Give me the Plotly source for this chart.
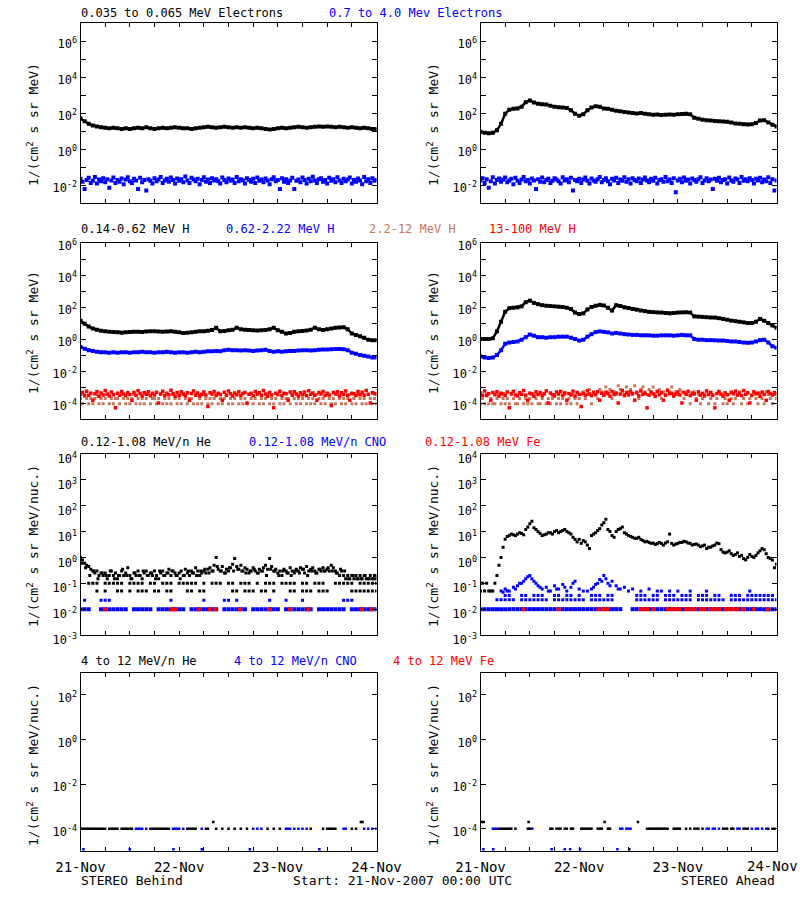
import plotly.graph_objects as go

N = None

# ---------------- DATA ----------------
# Row 1: electrons (hourly, hours since 21-Nov-2007 00:00)
E_LOW_BEHIND = [50,35,25,20,18,16,15,14,15,14, 13,14,13,14,15,14,16,14,13,14,
                15,14,15,16,15,14,14,13,14,15, 16,17,16,15,16,17,16,15,16,15,
                16,15,14,15,14,13,12,13,14,15, 14,15,16,17,16,15,16,17,18,17,
                18,17,16,17,16,15,16,15,14,15, 14,13,13]
E_LOW_AHEAD = [9,8,7.5,8,11,25,90,150,170,180, 220,400,500,380,330,310,300,250,220,210,
               200,190,140,90,70,85,140,200,240,220, 180,170,150,135,125,115,105,100,95,100,
               90,85,80,82,78,80,82,80,85,88, 90,85,55,48,42,40,38,36,35,34,
               33,30,26,25,24,23,24,28,38,40, 30,22,18]
# half-hourly
E_HIGH_BEHIND = [0.022,0.015,0.006,0.019,0.025,0.013,0.017,0.028,0.012,0.02,0.016,0.024,
                 0.014,0.021,0.007,0.018,0.026,0.013,0.019,0.015,0.023,0.011,0.02,0.027,
                 0.016,0.013,0.022,0.018,0.006,0.025,0.014,0.019,0.005,0.021,0.017,0.012,
                 0.024,0.016,0.02,0.028,0.013,0.018,0.022,0.015,0.026,0.019,0.012,0.023,
                 0.017,0.021,0.014,0.03,0.018,0.013,0.025,0.02,0.016,0.022,0.011,0.019,
                 0.027,0.015,0.02,0.013,0.024,0.018,0.021,0.016,0.012,0.026,0.019,0.014,
                 0.023,0.017,0.02,0.013,0.028,0.016,0.021,0.018,0.012,0.024,0.019,0.015,
                 0.022,0.013,0.026,0.017,0.02,0.014,0.023,0.018,0.011,0.021,0.027,0.016,
                 0.019,0.006,0.024,0.015,0.021,0.013,0.018,0.025,0.006,0.017,0.02,0.014,
                 0.026,0.019,0.012,0.022,0.016,0.029,0.018,0.013,0.021,0.024,0.015,0.019,
                 0.012,0.025,0.017,0.021,0.014,0.027,0.018,0.013,0.022,0.016,0.02,0.026,
                 0.012,0.019,0.015,0.023,0.018,0.011,0.028,0.016,0.021,0.013,0.024,0.017,
                 0.019]
E_HIGH_AHEAD = [0.018,0.024,0.013,0.021,0.007,0.016,0.027,0.012,0.019,0.023,0.015,0.02,
                0.026,0.014,0.018,0.022,0.011,0.025,0.017,0.013,0.02,0.028,0.016,0.019,
                0.012,0.023,0.018,0.006,0.021,0.015,0.026,0.014,0.019,0.022,0.013,0.017,
                0.024,0.02,0.016,0.012,0.027,0.018,0.021,0.014,0.025,0.005,0.019,0.016,
                0.022,0.013,0.02,0.026,0.017,0.012,0.023,0.018,0.015,0.021,0.028,0.014,
                0.019,0.024,0.016,0.011,0.022,0.018,0.025,0.013,0.02,0.017,0.027,0.015,
                0.021,0.012,0.024,0.019,0.016,0.023,0.013,0.02,0.026,0.018,0.014,0.022,
                0.017,0.025,0.012,0.019,0.021,0.015,0.028,0.016,0.02,0.013,0.024,0.004,
                0.018,0.022,0.014,0.026,0.017,0.02,0.012,0.023,0.019,0.015,0.021,0.027,
                0.013,0.018,0.024,0.016,0.02,0.006,0.022,0.017,0.025,0.014,0.019,0.021,
                0.012,0.026,0.018,0.015,0.023,0.02,0.013,0.028,0.017,0.021,0.016,0.024,
                0.019,0.012,0.022,0.018,0.025,0.014,0.02,0.016,0.027,0.013,0.021,0.005,
                0.018]

# Row 2: protons (hourly)
H1_BEHIND = [14,9,6,4.5,3.8,3.3,3,2.8,2.7,2.6, 2.5,2.6,2.7,2.8,2.8,2.7,2.9,3,3,2.9,
             2.8,2.9,3,2.8,2.6,2.4,2.5,2.6,2.8,3, 3.1,3.3,3.6,5,3,3.2,3.5,3.8,5,4,
             3.8,3.6,3.5,3.4,3.5,3.6,4,5,3.5,2.8, 2.2,2.4,2.8,3,3.2,3.4,3.8,5,4,3.6,
             4,4.5,5,5.2,5.5,4,2.2,1.8,1.5,1.2, 0.9,0.85,0.85]
H1_AHEAD = [1.0,1.0,1.0,1.1,3,12,50,85,90,95, 110,200,250,180,150,130,120,115,110,105,
            100,90,75,45,36,40,70,100,120,135, 125,90,60,130,115,95,85,75,68,60,
            55,50,48,46,45,42,40,42,45,46, 47,45,26,25,24,23,22,22,20,18,
            16,14,13,12,11,10,10,12,18,14, 10,7,5]
H2_BEHIND = [0.32,0.25,0.2,0.18,0.16,0.15,0.15,0.14,0.15,0.14, 0.15,0.15,0.14,0.15,0.15,0.16,0.15,0.15,0.14,0.15,
             0.15,0.16,0.15,0.14,0.15,0.15,0.14,0.15,0.16,0.15, 0.16,0.17,0.17,0.18,0.17,0.2,0.21,0.2,0.2,0.19,
             0.2,0.19,0.18,0.19,0.2,0.21,0.18,0.16,0.17,0.16, 0.17,0.18,0.18,0.19,0.2,0.2,0.19,0.2,0.21,0.22,
             0.22,0.23,0.24,0.24,0.23,0.2,0.14,0.12,0.1,0.09, 0.08,0.07,0.07]
H2_AHEAD = [0.08,0.07,0.065,0.07,0.1,0.2,0.5,0.6,0.65,0.7, 0.9,1.3,1.9,1.6,1.3,1.3,1.2,1.3,1.3,1.4,
            1.4,1.4,1.2,1.0,0.8,0.9,1.4,2.0,2.7,3.0, 2.8,2.6,2.2,2.4,2.2,2.0,1.9,1.8,1.8,1.7,
            1.7,1.7,1.6,1.6,1.7,1.7,1.7,1.6,1.7,1.8, 1.7,1.7,1.0,0.9,0.9,0.85,0.85,0.83,0.8,0.8,
            0.75,0.7,0.7,0.65,0.6,0.58,0.6,0.7,0.85,0.9, 0.6,0.35,0.28]
# half-hourly, values in 1e-4 units
H3_BEHIND_E4 = [1.9,0.9,3.4,1.9,0.9,1.9,0.9,1.9,3.4,0.9,1.9,0.9,
                1.9,3.4,0.9,1.9,0.9,1.9,1.9,0.9,3.4,1.9,0.9,1.9,
                0.9,1.9,3.4,0.9,1.9,0.9,1.9,0.9,1.9,3.4,0.9,1.9,
                1.9,0.9,1.9,3.4,0.9,1.9,0.9,1.9,0.9,3.4,1.9,0.9,
                1.9,0.9,3.4,1.9,0.9,1.9,1.9,0.9,3.4,0.9,1.9,0.9,
                3.4,1.9,0.9,1.9,0.9,1.9,3.4,0.9,1.9,0.9,1.9,3.4,
                0.9,1.9,0.9,1.9,3.4,0.9,1.9,0.9,1.9,0.9,3.4,1.9,
                0.9,1.9,3.4,0.9,1.9,0.9,1.9,3.4,0.9,1.9,0.9,1.9,
                3.4,0.9,1.9,0.9,1.9,1.9,0.9,3.4,1.9,0.9,1.9,0.9,
                1.9,3.4,0.9,1.9,0.9,1.9,0.9,3.4,1.9,0.9,1.9,0.9,
                3.4,1.9,0.9,1.9,0.9,3.4,1.9,0.9,1.9,0.9,1.9,3.4,
                0.9,1.9,0.9,3.4,1.9,0.9,1.9,0.9,3.4,1.9,0.9,1.9,
                0.9]
H3_AHEAD_E4 = [0.9,1.9,0.9,3.4,0.9,1.9,0.9,0.9,1.9,3.4,0.9,1.9,
               0.9,1.9,0.9,3.4,1.9,0.9,0.9,1.9,3.4,0.9,1.9,0.9,
               1.9,0.9,3.4,1.9,0.9,0.9,1.9,3.4,0.9,1.9,0.9,1.9,
               3.4,0.9,1.9,0.9,1.9,3.4,0.9,1.9,0.9,3.4,1.9,0.9,
               1.9,3.4,5.0,1.9,3.4,7.0,0.9,5.0,3.4,1.9,7.0,5.0,
               3.4,10,5.0,7.0,1.9,5.0,3.4,12,7.0,5.0,3.4,10,
               5.0,7.0,3.4,12,5.0,1.9,7.0,10,5.0,3.4,7.0,5.0,
               10,3.4,5.0,7.0,1.9,5.0,3.4,7.0,5.0,10,3.4,5.0,
               3.4,7.0,5.0,1.9,3.4,5.0,0.9,3.4,5.0,1.9,3.4,0.9,
               1.9,3.4,5.0,0.9,1.9,3.4,0.9,1.9,5.0,3.4,0.9,1.9,
               0.9,3.4,1.9,0.9,1.9,3.4,5.0,0.9,1.9,3.4,0.9,1.9,
               3.4,5.0,1.9,0.9,3.4,1.9,0.9,5.0,3.4,1.9,0.9,3.4,
               1.9]
H4_BEHIND_E4 = [3.5,4.5,2.8,5.5,3.0,4.0,1.5,3.8,5.0,2.6,4.2,3.2,
                6.0,3.6,2.7,4.8,3.3,0.5,4.1,3.0,5.2,3.7,2.9,4.4,
                3.4,1.5,4.6,3.1,5.8,3.9,2.7,4.3,3.5,5.1,2.8,4.0,
                3.2,4.7,1.0,3.6,5.4,2.9,4.1,3.3,6.2,3.8,2.6,4.5,
                3.0,5.0,3.7,2.8,4.3,1.5,3.9,5.6,3.1,4.2,2.7,3.5,
                4.9,3.2,0.6,4.4,3.6,5.3,2.9,4.0,3.4,1.5,4.7,3.1,
                5.7,3.8,2.7,4.2,3.3,5.0,2.9,3.9,4.6,1.0,3.5,4.1,
                2.8,5.2,3.6,4.3,3.0,6.0,3.7,2.6,4.5,3.2,0.5,4.0,
                3.4,5.5,2.9,4.1,3.8,1.5,4.8,3.1,5.1,3.6,2.7,4.4,
                3.3,4.9,2.8,5.9,3.5,4.2,3.0,1.5,4.6,3.7,5.3,2.9,
                4.0,3.2,0.7,4.5,3.6,5.0,2.7,4.3,3.4,5.6,3.1,1.5,
                4.1,3.8,2.9,5.2,3.3,4.7,3.0,6.1,3.5,1.0,4.4,3.9,
                3.6]
H4_AHEAD_E4 = [4.2,3.1,5.6,2.9,3.8,1.5,4.6,3.3,5.1,2.7,4.0,3.6,
               3.0,4.8,0.5,3.9,5.4,3.2,2.8,4.4,3.5,6.0,3.1,1.5,
               4.1,3.7,2.6,5.0,3.4,4.5,2.9,3.8,5.7,1.0,4.2,3.3,
               2.8,4.9,3.6,5.3,3.0,4.3,1.5,3.9,3.2,5.5,2.7,4.6,
               3.5,0.6,4.0,3.1,5.8,3.7,2.9,4.4,3.3,5.1,1.5,4.1,
               3.0,4.7,3.8,2.7,5.2,3.4,4.2,1.0,3.6,6.1,2.9,4.5,
               3.2,5.0,3.9,1.5,4.3,2.8,5.6,3.5,4.0,0.5,3.1,4.8,
               3.7,2.6,5.3,3.3,4.4,1.5,3.0,5.9,3.8,4.1,2.7,3.6,
               4.9,3.2,1.0,4.5,3.5,5.4,2.9,4.2,3.7,1.5,5.0,3.1,
               4.0,2.8,5.7,3.4,4.6,3.0,0.5,3.9,5.2,3.6,2.7,4.3,
               3.3,1.5,4.7,3.8,5.5,3.1,4.1,2.9,6.0,3.5,4.4,1.0,
               3.0,5.1,3.7,4.2,2.6,4.8,3.4,1.5,5.3,3.9,3.2,4.5,
               3.8]

# Row 3: 0.12-1.08 MeV/n
HE_BEHIND_CLOUD = [1.0,0.8,0.6,0.5,0.45,0.35,0.3,0.25,0.3,0.2,0.25,0.2,
                   0.25,0.15,0.2,0.3,0.2,0.25,0.15,0.2,0.3,0.2,0.25,0.4,
                   0.2,0.15,0.25,0.2,0.3,0.2,0.15,0.25,0.3,0.2,0.25,0.2,
                   0.3,0.2,0.15,0.25,0.3,0.2,0.25,0.35,0.2,0.3,0.25,0.2,
                   0.25,0.3,0.2,0.35,0.25,0.2,0.3,0.25,0.4,0.3,0.2,0.25,
                   0.3,0.25,0.35,0.4,0.3,0.5,1.0,0.35,0.3,0.45,0.25,0.35,
                   0.3,0.4,0.55,0.9,0.45,0.35,0.5,0.3,0.4,0.35,0.25,0.3,
                   0.4,0.3,0.25,0.35,0.3,0.4,0.5,0.35,0.9,0.45,0.3,0.35,
                   0.25,0.3,0.2,0.35,0.3,0.25,0.4,0.3,0.25,0.35,0.3,0.4,
                   0.35,0.25,0.45,0.3,0.35,0.4,0.3,0.25,0.35,0.3,0.4,0.3,
                   0.35,0.3,0.5,0.4,0.3,0.25,0.2,0.3,0.2,0.15,0.2,0.15,
                   0.2,0.15,0.2,0.15,0.2,0.15,0.2,0.15,0.15,0.2,0.15,0.2,
                   0.15]
HE_BEHIND_CLOUD_B = [0.6,0.4,0.2,0.3,0.15,0.25,0.2,0.3,0.15,0.2, 0.35,0.2,0.15,0.25,0.2,0.3,0.2,0.25,0.15,0.3,
                     0.2,0.25,0.3,0.2,0.15,0.2,0.3,0.25,0.2,0.3, 0.35,0.25,0.3,0.45,0.3,0.25,0.4,0.3,0.35,0.3,
                     0.25,0.3,0.35,0.25,0.3,0.2,0.35,0.3,0.2,0.3, 0.25,0.2,0.3,0.25,0.35,0.2,0.3,0.25,0.35,0.3,
                     0.4,0.3,0.25,0.35,0.3,0.15,0.2,0.15,0.15,0.2, 0.15,0.15,0.2]
HE_BEHIND_010 = [N,N,.1,.1,.1,N,.1,.1,.1,.1, .1,N,.1,.1,.1,.1,N,.1,.1,N,
                 .1,.1,.1,N,.1,.1,.1,.1,.1,N, .1,N,.1,.1,.1,N,.1,.1,N,.1,
                 .1,.1,N,.1,N,.1,.1,.1,N,.1, .1,.1,.1,N,.1,.1,N,.1,.1,.1,
                 N,N,.1,.1,.1,.1,.1,N,.1,.1, .1,.1,.1]
HE_BEHIND_005 = [N,N,N,N,.05,N,.05,N,N,.05, .05,N,.05,N,.05,.05,.05,N,.05,.05,
                 N,.05,.05,N,N,N,.05,.05,N,.05, .05,N,N,N,N,N,N,.05,.05,N,
                 .05,.05,.05,N,.05,.05,N,.05,N,N, N,.05,.05,N,.05,.05,.05,N,.05,.05,
                 .05,N,N,N,N,N,.05,.05,.05,.05, .05,.05,.05]
CNO_BEHIND_001 = [.01,.01,.01,N,N,.01,.01,.01,.01,.01, .01,.01,N,.01,.01,.01,.01,.01,N,.01,
                  .01,.01,.01,.01,.01,.01,N,.01,.01,.01, .01,.01,.01,.01,N,.01,.01,.01,.01,.01,
                  .01,N,.01,.01,.01,.01,.01,.01,.01,N, .01,.01,.01,.01,.01,.01,.01,N,.01,.01,
                  .01,.01,.01,.01,.01,N,.01,.01,.01,.01, .01,.01,.01]
CNO_BEHIND_002 = [(1,.022),(5,.022),(6,.022),(7,.022),(22,.022),(30,.022),(35,.022),(36,.022),
                  (38,.022),(46,.022),(50,.022),(54,.022),(64,.022),(65,.022),(66,.022)]
FE_BEHIND = [(5.9,.01),(22.2,.01),(23,.01),(28.7,.01),(31.5,.01),(32.7,.01),(38.8,.01),
             (46.1,.01),(51,.01),(55.4,.01),(68.4,.01),(70.8,.01)]

HE_AHEAD = [0.05,0.05,0.05,0.05,0.2,1.0,5,7,7.5,8, 8.5,12,20,14,10,7,8,9,10,9,
            11,10,8,5,5,4.5,3,7,9,13, 22,12,7,10,13,9,7,6,5.5,5,
            4,3.8,3.6,3.4,3.5,3.6,8,3,3.5,3.8, 4,3.5,3.2,3,2.8,2.2,2.5,3,3.4,1.6,
            1.6,1.4,1.3,1.1,0.9,1.0,1.1,1.2,1.8,2, 1.0,0.8,0.55]
HE_AHEAD_B = [0.1,0.1,0.05,0.1,0.5,2.5,6.5,8,7,9, 7.5,15,25,12,8.5,7.5,9,8,11,10,
              12,9,6,4,3.5,4,2.2,8,11,18, 30,10,6,12,15,8,6.5,5.5,6,4.5,
              4.2,3.5,3.2,3.8,3,4,3.5,3.3,3.8,4.2, 3.6,3,3.3,2.6,3,2.5,2.8,3.6,2,1.5,
              1.8,1.2,1.5,1.2,0.8,1.3,1.0,1.5,2.2,1.4, 0.9,0.4]
CNO_AHEAD_001 = [.01,.01,.01,.01,.01,.01,.01,.01,.01,.01, .01,.01,.01,.01,.01,.01,.01,.01,.01,.01,
                 .01,.01,.01,.01,.01,.01,.01,.01,.01,.01, .01,.01,.01,.01,.01,N,N,.01,.01,.01,
                 .01,.01,.01,.01,.01,.01,.01,.01,.01,.01, .01,.01,.01,.01,.01,.01,.01,.01,.01,.01,
                 .01,.01,.01,.01,.01,.01,.01,.01,.01,.01, .01,.01,.01]
CNO_AHEAD_002 = [N,N,N,N,.023,.023,.023,.023,.023,N, .023,.023,.023,.023,.023,.023,.023,N,.023,.023,
                 .023,.023,.023,.023,.023,.023,N,.023,.023,.023, .023,.023,.023,N,N,N,N,N,.023,.023,
                 .023,.023,.023,.023,N,.023,.023,.023,.023,.023, .023,.023,N,.023,.023,.023,.023,.023,.023,.023,
                 N,.023,.023,.023,.023,.023,.023,.023,.023,.023, .023,.023,.023]
CNO_AHEAD_003 = [N,N,N,N,N,N,.034,.034,N,N, .034,.034,N,.034,.034,.034,N,N,.034,.034,
                 N,.034,.034,N,.034,N,N,.034,.034,.034, N,.034,.034,N,N,N,N,N,.034,.034,
                 .034,N,.034,.034,N,.034,.034,.034,N,.034, .034,.034,N,.034,.034,.034,N,.034,.034,N,
                 N,.034,.034,.034,N,.034,.034,.034,.034,.034, .034,.034,N]
CNO_AHEAD_SCAT = [(5,0.05),(5.5,0.045),(6,0.06),(6.5,0.05),(7,0.05),(8,0.07),(8.5,0.06),(9,0.08),
                  (9.5,0.1),(10,0.1),(10.5,0.12),(11,0.15),(11.5,0.18),(12,0.2),(12.5,0.15),(13,0.12),
                  (13.5,0.1),(14,0.08),(14.5,0.07),(15,0.06),(16,0.07),(16.5,0.05),(17,0.05),(18,0.08),
                  (18.5,0.06),(19,0.06),(20,0.09),(20.5,0.07),(21,0.05),(22,0.07),(22.5,0.1),(23,0.12),
                  (24,0.06),(25,0.05),(26,0.05),(27,0.06),(27.5,0.07),(28,0.09),(28.5,0.1),(29,0.14),
                  (29.5,0.12),(30,0.2),(30.5,0.15),(31,0.1),(31.5,0.08),(32,0.12),(33,0.08),(33.5,0.06),
                  (34,0.06),(35,0.07),(36,0.05),(37,0.06),(39,0.05),(41,0.06),(43,0.05),(44,0.05),
                  (46,0.05),(48,0.05),(51,0.05),(55,0.05),(65.5,0.05)]
FE_AHEAD = [(10.5,.01),(19,.01),(28.7,.01),(30,.01),(30.8,.01),(39,.01),(40,.01),(40.6,.01),
            (42.2,.01),(45.5,.01),(46.5,.01),(47.5,.01),(48.5,.01),(50,.01),(51,.01),(52,.01),
            (53.5,.01),(54.5,.01),(56,.01),(57,.01),(58,.01),(59.5,.01),(60.5,.01),(61.5,.01),
            (62.5,.01),(64,.01),(66.5,.01),(69.7,.01)]

# Row 4: 4-12 MeV/n (sparse samples: (hour, value))
HE4_BEHIND = [(0,1e-4),(0.5,1e-4),(1,1e-4),(1.5,1e-4),(2,1e-4),(2.5,1e-4),(3,1e-4),(3.5,1e-4),
              (4,1e-4),(4.5,1e-4),(5,1e-4),(5.5,1e-4),(6,1e-4),(7,1e-4),(7.5,1e-4),(8,1e-4),
              (8.5,1e-4),(9,1e-4),(10,1e-4),(10.5,1e-4),(11,1e-4),(11.5,1e-4),(12,1e-4),(12.5,1e-4),
              (17,1e-4),(17.5,1e-4),(18,1e-4),(18.5,1e-4),(19,1e-4),(19.5,1e-4),(20,1e-4),(20.5,1e-4),
              (21,1e-4),(21.5,1e-4),(26,1e-4),(26.5,1e-4),(27,1e-4),(27.5,1e-4),(28,1e-4),(30.5,1e-4),
              (31,1e-4),(32.3,2e-4),(33,1e-4),(34.5,1e-4),(36,1e-4),(37.5,1e-4),(39,1e-4),(40.5,1e-4),
              (45.5,1e-4),(47,1e-4),(48.5,1e-4),(56,1e-4),(59,1e-4),(60,1e-4),(60.5,1e-4),(61,1e-4),
              (61.5,1e-4),(62,1e-4),(66,1e-4),(67,1e-4),(68.2,2e-4),(68.6,2e-4)]
CNO4_BEHIND = [(0.7,1.2e-5),(12,1.2e-5),(13.5,1e-4),(14,1e-4),(14.5,1e-4),(15,1e-4),(16,1e-4),
               (22.6,1.2e-5),(22.5,1e-4),(23,1e-4),(23.5,1e-4),(24,1e-4),(25,1e-4),(29.5,1.2e-5),
               (29.5,1e-4),(41.2,1.2e-5),(42,1e-4),(43,1e-4),(44,1e-4),(50,1e-4),(50.5,1e-4),(51,1e-4),
               (52,1e-4),(53,1e-4),(54,1e-4),(55,1e-4),(58.1,1.2e-5),(64,1e-4),(64.5,1e-4),(69,1e-4),
               (70,1e-4),(71,1e-4),(72,1e-4)]
HE4_AHEAD = [(0.3,2e-4),(0.8,2e-4),(4.5,1e-4),(5,1e-4),(5.5,1e-4),(6,1e-4),(6.5,1e-4),(7,1e-4),
             (7.5,1e-4),(8.5,1e-4),(11.5,1e-4),(11.7,2e-4),(12,1e-4),(17,1e-4),(17.5,1e-4),(18.5,1e-4),
             (19,1e-4),(19.5,1e-4),(20.5,1e-4),(21,1e-4),(22,1e-4),(22.5,1e-4),(24.5,1e-4),(25,1e-4),
             (25.5,1e-4),(26,1e-4),(26.5,1e-4),(27,1e-4),(28.5,1e-4),(29,1e-4),(29.5,1e-4),(30.2,2e-4),
             (31,1e-4),(31.5,1e-4),(38.3,2e-4),(40.5,1e-4),(41,1e-4),(41.5,1e-4),(42,1e-4),(42.5,1e-4),
             (43,1e-4),(43.5,1e-4),(44,1e-4),(44.5,1e-4),(45,1e-4),(45.5,1e-4),(47,1e-4),(47.5,1e-4),
             (48,1e-4),(48.5,1e-4),(50,1e-4),(51,1e-4),(52,1e-4),(52.5,1e-4),(53,1e-4),(54,1e-4),
             (59,1e-4),(59.5,1e-4),(60,1e-4),(61,1e-4),(61.5,1e-4),(64,1e-4),(64.5,1e-4),(65,1e-4),
             (70,1e-4),(71,1e-4),(71.5,1e-4)]
CNO4_AHEAD = [(0.7,1.2e-5),(3.1,1.2e-5),(3,1e-4),(3.5,1e-4),(4,1e-4),(12.6,1e-4),(17.3,1.2e-5),
              (20.5,1.2e-5),(21.8,1.2e-5),(24.2,1.2e-5),(33.3,1.2e-5),(34,1e-4),(34.5,1e-4),
              (35.5,1e-4),(36,1e-4),(36.5,1e-4),(36.2,1.2e-5),(55,1e-4),(55.5,1e-4),(56.5,1e-4),
              (57,1e-4),(58,1e-4),(62.5,1e-4),(63,1e-4),(66,1e-4),(67,1e-4),(67.5,1e-4),(68.5,1e-4),
              (69.5,1e-4)]

DAY_LABELS = ["21-Nov", "22-Nov", "23-Nov", "24-Nov"]
ROW_TITLES = [
    [("0.035 to 0.065 MeV Electrons", "#000000", 80), ("0.7 to 4.0 Mev Electrons", "#0000ff", 328)],
    [("0.14-0.62 MeV H", "#000000", 80), ("0.62-2.22 MeV H", "#0000ff", 225),
     ("2.2-12 MeV H", "#c8785a", 368), ("13-100 MeV H", "#ff0000", 488)],
    [("0.12-1.08 MeV/n He", "#000000", 80), ("0.12-1.08 MeV/n CNO", "#0000ff", 248),
     ("0.12-1.08 MeV Fe", "#ff0000", 424)],
    [("4 to 12 MeV/n He", "#000000", 80), ("4 to 12 MeV/n CNO", "#0000ff", 233),
     ("4 to 12 MeV Fe", "#ff0000", 392)],
]

# ---------------- LAYOUT ----------------
W, H = 800, 900
COLS = [(80.5, 376.5), (480.5, 776.5)]
ROWS = [(23, 203), (243, 419), (454, 635), (672.5, 851)]
YRANGES = [(-3, 7), (-5, 6), (-3, 4), (-5, 3)]
LABEL_SHIFT = [3, 3, 5, 3]
TITLE_Y = [13, 229, 442, 661]
YTITLE_Y = [125, 333, 546, 765]
YTITLES = ["1/(cm<sup>2</sup> s sr MeV)", "1/(cm<sup>2</sup> s sr MeV)",
           "1/(cm<sup>2</sup> s sr MeV/nuc.)", "1/(cm<sup>2</sup> s sr MeV/nuc.)"]
FONT = "DejaVu Sans Mono"
BLACK, BLUE, SIENNA, RED = "#000000", "#0000ff", "#c8785a", "#ff0000"


def xf(px):
    return px / W


def yf(py):
    return 1 - py / H


fig = go.Figure()


def ax_names(idx):
    return ("x" if idx == 1 else f"x{idx}", "y" if idx == 1 else f"y{idx}")


def add(idx, t, v, color, size=3, line=False, lw=1.5):
    xa, ya = ax_names(idx)
    fig.add_trace(go.Scatter(
        x=t, y=v, xaxis=xa, yaxis=ya,
        mode="lines+markers" if line else "markers",
        marker=dict(symbol="square", size=size, color=color, line=dict(width=0)),
        line=dict(color=color, width=lw),
        connectgaps=False, hoverinfo="skip", showlegend=False))


def hourly(v, off=0.0):
    return [i + off for i in range(len(v))]


def halfhourly(v):
    return [i * 0.5 for i in range(len(v))]


def pairs(p):
    return [a for a, b in p], [b for a, b in p]


# Row 1
add(1, halfhourly(E_HIGH_BEHIND), E_HIGH_BEHIND, BLUE, 4)
add(1, hourly(E_LOW_BEHIND), E_LOW_BEHIND, BLACK, 4, True, 2.5)
add(2, halfhourly(E_HIGH_AHEAD), E_HIGH_AHEAD, BLUE, 4)
add(2, hourly(E_LOW_AHEAD), E_LOW_AHEAD, BLACK, 4, True, 2.5)
# Row 2
for idx, h1, h2, h3, h4 in [(3, H1_BEHIND, H2_BEHIND, H3_BEHIND_E4, H4_BEHIND_E4),
                            (4, H1_AHEAD, H2_AHEAD, H3_AHEAD_E4, H4_AHEAD_E4)]:
    add(idx, hourly(h1), h1, BLACK, 4, True, 2.5)
    add(idx, hourly(h2), h2, BLUE, 4, True, 2.5)
    add(idx, halfhourly(h3), [v * 1e-4 for v in h3], SIENNA, 3)
    add(idx, halfhourly(h4), [v * 1e-4 for v in h4], RED, 3.5)
# Row 3 behind
add(5, halfhourly(HE_BEHIND_CLOUD), HE_BEHIND_CLOUD, BLACK, 3)
add(5, hourly(HE_BEHIND_CLOUD_B, 0.25), HE_BEHIND_CLOUD_B, BLACK, 3)
add(5, hourly(HE_BEHIND_010), HE_BEHIND_010, BLACK, 3)
add(5, hourly(HE_BEHIND_005), HE_BEHIND_005, BLACK, 3)
add(5, *pairs(CNO_BEHIND_002), BLUE, 3)
add(5, hourly(CNO_BEHIND_001), CNO_BEHIND_001, BLUE, 4)
add(5, *pairs(FE_BEHIND), RED, 4)
# Row 3 ahead
add(6, hourly(HE_AHEAD), HE_AHEAD, BLACK, 3)
add(6, hourly(HE_AHEAD_B, 0.5), HE_AHEAD_B, BLACK, 3)
add(6, *pairs(CNO_AHEAD_SCAT), BLUE, 3)
add(6, hourly(CNO_AHEAD_003), CNO_AHEAD_003, BLUE, 3)
add(6, hourly(CNO_AHEAD_002), CNO_AHEAD_002, BLUE, 3)
add(6, hourly(CNO_AHEAD_001), CNO_AHEAD_001, BLUE, 4)
add(6, *pairs(FE_AHEAD), RED, 4)
# Row 4
add(7, *pairs(HE4_BEHIND), BLACK, 2.5)
add(7, *pairs(CNO4_BEHIND), BLUE, 2.5)
add(8, *pairs(HE4_AHEAD), BLACK, 2.5)
add(8, *pairs(CNO4_AHEAD), BLUE, 2.5)

layout = {}
for r in range(4):
    for c in range(2):
        idx = r * 2 + c + 1
        xk = "xaxis" if idx == 1 else f"xaxis{idx}"
        yk = "yaxis" if idx == 1 else f"yaxis{idx}"
        xa, ya = ax_names(idx)
        x0, x1 = COLS[c]
        y0, y1 = ROWS[r]
        tv = list(range(0, 73, 6))
        # the last day label of the right column runs to the page edge; drawn as an annotation below
        tt = [(DAY_LABELS[v // 24] if (r == 3 and v % 24 == 0 and not (c == 1 and v == 72)) else "")
              for v in tv]
        layout[xk] = dict(domain=[xf(x0), xf(x1)], anchor=ya, range=[0, 72], automargin=False,
                          tickmode="array", tickvals=tv, ticktext=tt,
                          ticks="inside", ticklen=4, tickcolor="black", tickwidth=1,
                          ticklabelstandoff=3,
                          showline=True, linecolor="black", linewidth=1, mirror="allticks",
                          showgrid=False, zeroline=False,
                          tickfont=dict(family=FONT, size=14, color="black"))
        lo, hi = YRANGES[r]
        if r == 3:
            ks = list(range(-4, 3, 2))
        else:
            ks = list(range(lo, hi + 1))
        labels = []
        for k in ks:
            show = (r >= 2) or (k % 2 == 0)
            labels.append(f"10<sup>{k}</sup>" if show else "")
        layout[yk] = dict(domain=[yf(y1), yf(y0)], anchor=xa, type="log", range=[lo, hi],
                          automargin=False,
                          tickmode="array", tickvals=[10.0 ** k for k in ks], ticktext=labels,
                          ticks="inside", ticklen=5, tickcolor="black", tickwidth=1,
                          ticklabelshift=LABEL_SHIFT[r],
                          showline=True, linecolor="black", linewidth=1, mirror="allticks",
                          showgrid=False, zeroline=False,
                          tickfont=dict(family=FONT, size=12, color="black"))

ann = []
for r in range(4):
    for text, color, px in ROW_TITLES[r]:
        ann.append(dict(text=text, x=xf(px - 1), y=yf(TITLE_Y[r]), xref="paper", yref="paper",
                        xanchor="left", yanchor="middle", showarrow=False,
                        font=dict(family=FONT, size=12, color=color)))
    for cx in (33, 433):
        ann.append(dict(text=YTITLES[r], x=xf(cx), y=yf(YTITLE_Y[r]), xref="paper", yref="paper",
                        xanchor="center", yanchor="middle", textangle=-90, showarrow=False,
                        font=dict(family=FONT, size=13, color="black")))
ann.append(dict(text=DAY_LABELS[3], x=xf(800), y=yf(866), xref="paper", yref="paper",
                xanchor="right", yanchor="middle", showarrow=False,
                font=dict(family=FONT, size=14, color="black")))
ann.append(dict(text="STEREO Behind", x=xf(79), y=yf(880), xref="paper", yref="paper",
                xanchor="left", yanchor="middle", showarrow=False,
                font=dict(family=FONT, size=13, color="black")))
ann.append(dict(text="Start: 21-Nov-2007 00:00 UTC", x=xf(291), y=yf(880), xref="paper", yref="paper",
                xanchor="left", yanchor="middle", showarrow=False,
                font=dict(family=FONT, size=13, color="black")))
ann.append(dict(text="STEREO Ahead", x=xf(777), y=yf(880), xref="paper", yref="paper",
                xanchor="right", yanchor="middle", showarrow=False,
                font=dict(family=FONT, size=13, color="black")))

fig.update_layout(width=W, height=H, margin=dict(l=0, r=0, t=0, b=0, autoexpand=False),
                  paper_bgcolor="white", plot_bgcolor="white",
                  annotations=ann, **layout)

fig.write_html("out.html", config={"displayModeBar": False},
               post_script="document.body.style.margin='0';")
